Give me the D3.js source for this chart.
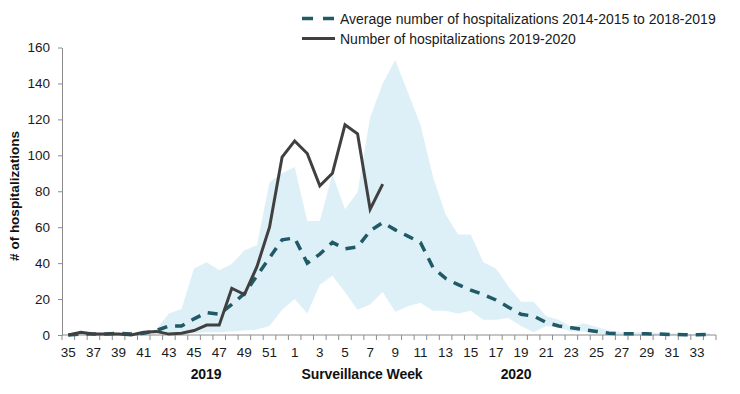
<!DOCTYPE html>
<html>
<head>
<meta charset="utf-8">
<script src="https://cdn.jsdelivr.net/npm/d3@7"></script>
<style>
body { margin: 0; background: #fff; }
text { font-family: Arial, "Liberation Sans", sans-serif; }
</style>
</head>
<body>
<div></div>
<script>
// surveillance weeks, 2019 then 2020
let weeks = [35,36,37,38,39,40,41,42,43,44,45,46,47,48,49,50,51,52,
  1,2,3,4,5,6,7,8,9,10,11,12,13,14,15,16,17,18,19,20,21,22,23,24,25,26,27,28,29,30,31,32,33,34];
// average 2014-2015 to 2018-2019
let avgValues = [0,0.5,0.5,0.5,1,0.5,1,2.5,5,5,9,12.5,11.5,17,23,33,43,53,
  54,40,45,51.5,48,49,58,62.5,58.5,55,51.5,37.5,31.5,28,25,22.5,19.5,15.5,11.5,10.5,7,5,4,3,2,1,0.7,0.7,0.7,0.5,0.3,0.2,0.2,0.4];
// min / max of the previous seasons (shaded range)
let lowValues = [0,0,0,0,0,0,0,0.5,0.5,1,1,1.5,1.5,2,2.5,3,5,14,
  20,12,28,33,24,14,17,24,13,16,18,13.5,13.5,12,13.5,8.5,8.5,9.5,5,1.5,5,4,2,2,0.7,0.3,0,0,0,0,0,0,0,0];
let highValues = [0,1,0.5,1,1.5,0.5,2,3,12,14.5,37,40.5,36,39.5,47,50,85,90,
  93.5,63.5,63.5,89.5,70,79.5,121,140,153,135,117,88,67,56,56,40.5,37,27,18.5,18.5,10.5,8.5,4.5,6.5,4.5,2.5,1.5,1.5,1.5,1,1,0.5,0.5,1];
// season 2019-2020 (up to week 8)
let curValues = [0,1.5,0.5,0.5,0.5,0,1.5,2,0.5,1,2.5,5.5,5.5,26,22.5,38,60,99,
  108,101,83,90,117,112,70,84];
let yTicks = [0,20,40,60,80,100,120,140,160];

let svgWidth = 740;
let svgHeight = 394;
let plotLeft = 62, plotRight = 716, plotTop = 47.5, plotBottom = 335;

let svg = d3.select("body div")
    .append("svg")
    .attr("width", svgWidth)
    .attr("height", svgHeight);

let x = d3.scaleBand().domain(weeks).range([plotLeft, plotRight]).padding(0);
let y = d3.scaleLinear().domain([0, 160]).range([plotBottom, plotTop]);
let cx = function(w) { return x(w) + x.bandwidth() / 2; };

// shaded min-max range
let area = d3.area()
    .x(function(d, i) { return cx(weeks[i]); })
    .y0(function(d, i) { return y(lowValues[i]); })
    .y1(function(d, i) { return y(highValues[i]); });
svg.append("path")
    .datum(weeks)
    .attr("d", area)
    .attr("fill", "#DDEFF7");

// y axis
let yAxis = d3.axisLeft(y).tickValues(yTicks).tickSize(4).tickSizeOuter(0).tickPadding(8);
let gy = svg.append("g")
    .attr("transform", "translate(" + plotLeft + ",0)")
    .call(yAxis);
gy.select(".domain").attr("stroke", "#8c8c8c");
gy.selectAll(".tick line").attr("stroke", "#8c8c8c");
gy.selectAll(".tick text")
    .attr("font-size", "13.5px")
    .attr("fill", "#1a1a1a")
    .style("font-family", "Arial, 'Liberation Sans', sans-serif");

// x axis: ticks between categories, labels every other week
let gx = svg.append("g");
gx.append("line")
    .attr("x1", plotLeft).attr("x2", plotRight)
    .attr("y1", plotBottom).attr("y2", plotBottom)
    .attr("stroke", "#8c8c8c");
let bounds = weeks.map(function(w) { return x(w); }).concat([plotRight]);
gx.selectAll("line.tk")
    .data(bounds)
    .enter().append("line")
    .attr("class", "tk")
    .attr("x1", function(d) { return d; }).attr("x2", function(d) { return d; })
    .attr("y1", plotBottom).attr("y2", plotBottom + 5)
    .attr("stroke", "#8c8c8c");
gx.selectAll("text")
    .data(weeks.filter(function(w, i) { return i % 2 == 0; }))
    .enter().append("text")
    .attr("x", function(d) { return cx(d); })
    .attr("y", plotBottom + 22)
    .attr("text-anchor", "middle")
    .attr("font-size", "13.5px")
    .attr("fill", "#1a1a1a")
    .text(function(d) { return d; });

// bottom titles
let titles = [
  {t: "2019", x: 206},
  {t: "Surveillance Week", x: 362},
  {t: "2020", x: 516}
];
svg.selectAll("text.ttl")
    .data(titles)
    .enter().append("text")
    .attr("class", "ttl")
    .attr("x", function(d) { return d.x; })
    .attr("y", 379)
    .attr("text-anchor", "middle")
    .attr("font-size", "14px")
    .attr("font-weight", "bold")
    .attr("letter-spacing", "-0.1px")
    .attr("fill", "#111")
    .text(function(d) { return d.t; });

svg.append("text")
    .attr("transform", "translate(19,196) rotate(-90)")
    .attr("text-anchor", "middle")
    .attr("font-size", "13.5px")
    .attr("font-weight", "bold")
    .attr("fill", "#111")
    .text("# of hospitalizations");

// lines
let line = d3.line()
    .x(function(d, i) { return cx(weeks[i]); })
    .y(function(d) { return y(d); });
svg.append("path")
    .datum(avgValues)
    .attr("d", line)
    .attr("fill", "none")
    .attr("stroke", "#215A67")
    .attr("stroke-width", 3.5)
    .attr("stroke-dasharray", "10,8");

svg.append("path")
    .datum(curValues)
    .attr("d", line)
    .attr("fill", "none")
    .attr("stroke", "#404040")
    .attr("stroke-width", 3)
    .attr("stroke-linejoin", "miter");

// legend
let legend = [
  {label: "Average number of hospitalizations 2014-2015 to 2018-2019", color: "#215A67", dash: "11,10", w: 3.5, y: 18.5},
  {label: "Number of hospitalizations 2019-2020", color: "#404040", dash: null, w: 3, y: 38.5}
];
let lg = svg.selectAll("g.lg")
    .data(legend)
    .enter().append("g")
    .attr("class", "lg");
lg.append("line")
    .attr("x1", 302).attr("x2", 335)
    .attr("y1", function(d) { return d.y; }).attr("y2", function(d) { return d.y; })
    .attr("stroke", function(d) { return d.color; })
    .attr("stroke-width", function(d) { return d.w; })
    .attr("stroke-dasharray", function(d) { return d.dash; });
lg.append("text")
    .attr("x", 340)
    .attr("y", function(d) { return d.y + 5; })
    .attr("font-size", "14px")
    .attr("fill", "#1a1a1a")
    .text(function(d) { return d.label; });
</script>
</body>
</html>
